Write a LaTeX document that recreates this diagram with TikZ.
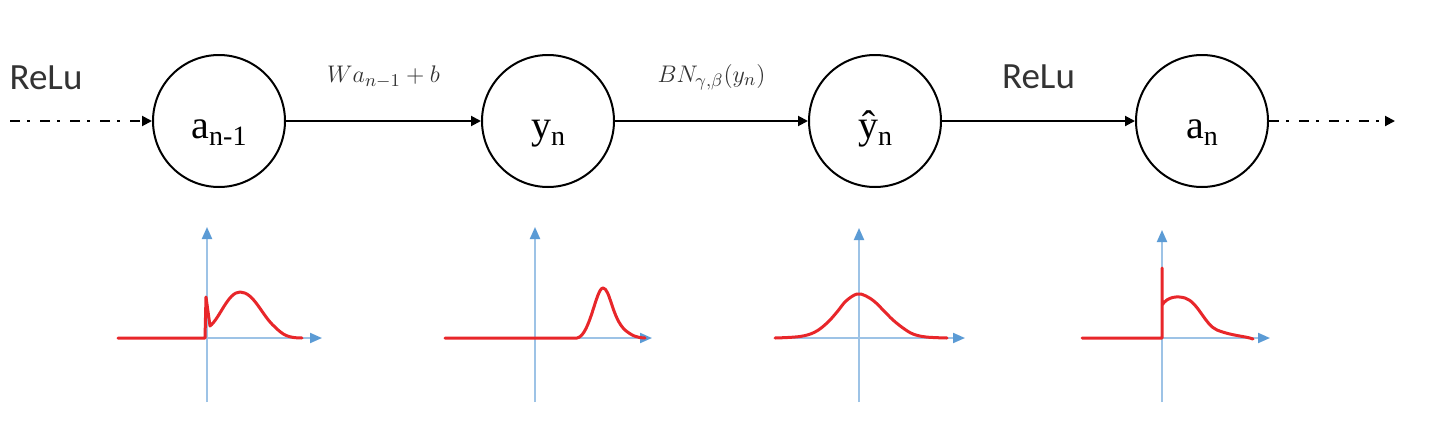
\documentclass[tikz,border=0pt]{standalone}
\usepackage{fontspec}
\setmainfont{Liberation Serif}
\newfontfamily\relufont{Carlito}
\usetikzlibrary{arrows.meta}
\definecolor{axisline}{HTML}{9DC3E6}
\definecolor{axistip}{HTML}{5B9BD5}
\definecolor{curvered}{HTML}{E8262A}
\definecolor{labelgrey}{HTML}{333333}
\newcommand\nsub[1]{\raisebox{-3.5pt}{\fontsize{14}{14}\selectfont #1}}
\begin{document}
\begin{tikzpicture}[x=0.5pt,y=-0.5pt,
 neuron/.style={circle,draw,line width=1pt,minimum size=66pt,inner sep=0pt,text height=19pt,text depth=2pt,font=\fontsize{20}{20}\selectfont},
 flow/.style={line width=1pt,-{Triangle[length=5pt,width=5pt]}},
 flowdash/.style={flow,dash pattern=on 5pt off 3.5pt on 1.5pt off 5pt},
 relu/.style={font=\relufont\fontsize{18.5}{18.5}\selectfont,text=labelgrey},
 mathlab/.style={font=\fontsize{13}{13}\selectfont,text=labelgrey},
 axisarrow/.style={axisline,line width=1pt,-{Triangle[length=6pt,width=5pt,color=axistip]}},
 distcurve/.style={curvered,line width=1.5pt,line join=round,line cap=round}]
\useasboundingbox[fill=white] (0,0) rectangle (1440,445);

% nodes
\node[neuron] (a1) at (219,121) {a\nsub{n-1}};
\node[neuron] (y1) at (548,121) {y\nsub{n}};
\node[neuron] (yh) at (875,121) {\^{y}\nsub{n}};
\node[neuron] (a2) at (1202,121) {a\nsub{n}};
\coordinate (startL) at (10,121);
\coordinate (endR) at (1395,121);
\node[relu] (relu1) at (46,78) {ReLu};

% connectors
\draw[flowdash] (startL) -- (a1);
\draw[flow] (a1) -- node[mathlab,yshift=22pt] (lblW) {$Wa_{n-1}+b$} (y1);
\draw[flow] (y1) -- node[mathlab,yshift=22pt] (lblBN) {$BN_{\gamma,\beta}(y_n)$} (yh);
\draw[flow] (yh) -- node[relu,yshift=22pt] (relu2) {ReLu} (a2);
\draw[flowdash] (a2) -- (endR);

% plot 1
\draw[axisarrow] (207,402) -- (207,227);
\draw[axisarrow] (118,338) -- (322,338);
\draw[distcurve] (118,338) -- (205,338) -- (206,297) -- (210,326)
  .. controls (220,318) and (228,292) .. (240,292)
  .. controls (254,292) and (262,316) .. (275,327)
  .. controls (283,335) and (288,338) .. (302,338);

% plot 2
\draw[axisarrow] (535,402) -- (535,227);
\draw[axisarrow] (445,338) -- (652,338);
\draw[distcurve] (445,338) -- (577,338)
  .. controls (590,336) and (596,288) .. (603,288)
  .. controls (610,288) and (612,318) .. (625,330)
  .. controls (632,336) and (638,338) .. (645,338);

% plot 3
\draw[axisarrow] (859,402) -- (859,228);
\draw[axisarrow] (775,338) -- (965,338);
\draw[distcurve] plot[smooth,tension=0.6] coordinates {(775,338) (800,336.5) (815,332) (827,323) (837,312) (846,301) (857,294) (866,296) (875,302) (884,311) (893,320) (903,328) (913,334) (926,337) (947,338)};

% plot 4
\draw[axisarrow] (1162,402) -- (1162,230);
\draw[axisarrow] (1082,338) -- (1270,338);
\draw[distcurve] (1082,338) -- (1162,338) -- (1162,268) -- (1162,305)
  .. controls (1168,296) and (1178,296) .. (1185,298)
  .. controls (1198,302) and (1205,325) .. (1217,330)
  .. controls (1232,336) and (1245,336) .. (1253,339);
\end{tikzpicture}
\end{document}
